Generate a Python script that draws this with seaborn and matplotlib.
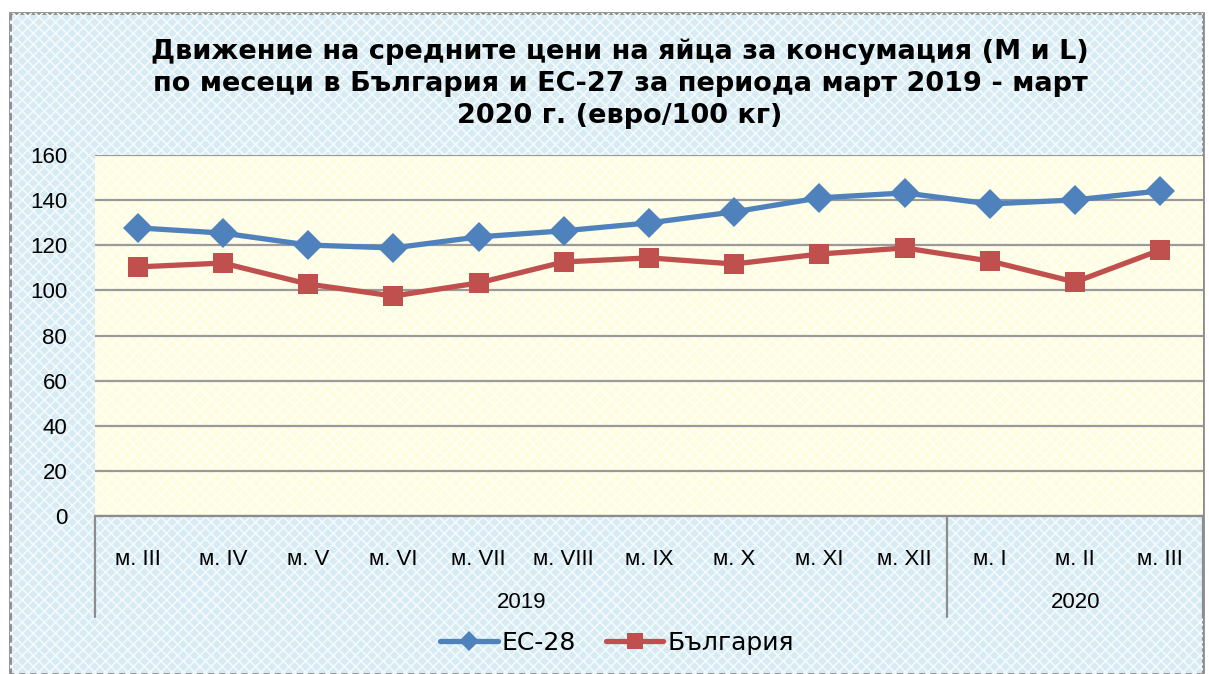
import matplotlib.pyplot as plt
import matplotlib.transforms as mtransforms
from matplotlib.patches import Rectangle
from matplotlib.lines import Line2D
import numpy as np
import pandas as pd
import seaborn as sns

months = ["м. III", "м. IV", "м. V", "м. VI", "м. VII", "м. VIII", "м. IX",
          "м. X", "м. XI", "м. XII", "м. I", "м. II", "м. III"]
years = ["2019", "2020"]
year_sizes = [10, 3]
ec28 = [127.7, 125.4, 120.1, 118.8, 123.7, 126.4, 129.9, 134.8, 141.0, 143.2, 138.3, 140.1, 144.1]
bulgaria = [110.4, 112.1, 102.8, 97.5, 103.3, 112.6, 114.4, 111.7, 116.1, 118.8, 113.0, 103.7, 117.9]
series_names = ["ЕС-28", "България"]

title = ("Движение на средните цени на яйца за консумация (M и L)\n"
         "по месеци в България и ЕС-27 за периода март 2019 - март\n"
         "2020 г. (евро/100 кг)")

sns.set_theme(style="white")
plt.rcParams['font.family'] = ['Liberation Sans', 'DejaVu Sans']
plt.rcParams['hatch.linewidth'] = 1.2

fig = plt.figure(figsize=(12.09, 6.74), dpi=100)
fig.patch.set_facecolor("white")

W, H = 1209, 674
# chart box with light blue pattern
bg = Rectangle((10 / W, 0), (1203 - 10) / W, (674 - 13) / H, transform=fig.transFigure,
               facecolor="#d6ebf3", edgecolor="#8c8c8c", linewidth=2, zorder=-3)
fig.patches.append(bg)
bg_h = Rectangle((10 / W, 0), (1203 - 10) / W, (674 - 13) / H, transform=fig.transFigure,
                 fill=False, hatch="xxx", edgecolor="#f4fafc", linewidth=0, zorder=-2)
fig.patches.append(bg_h)

ax = fig.add_axes([95 / W, 1 - 516 / H, (1203 - 95) / W, (516 - 155) / H])
ax.set_facecolor("#fffde0")
ax.add_patch(Rectangle((0, 0), 1, 1, transform=ax.transAxes, fill=False, hatch="xxx",
                       edgecolor="#fffff4", linewidth=0, zorder=0))

x = np.arange(len(months))
df = pd.DataFrame({"pos": np.concatenate([x, x]),
                   "value": ec28 + bulgaria,
                   "series": [series_names[0]] * len(x) + [series_names[1]] * len(x)})
palette = {series_names[0]: "#4f81bd", series_names[1]: "#c0504d"}

sns.lineplot(data=df[df.series == series_names[0]], x="pos", y="value", ax=ax,
             color=palette[series_names[0]], linewidth=3.8, marker="D", markersize=15,
             markeredgewidth=0, zorder=3)
sns.lineplot(data=df[df.series == series_names[1]], x="pos", y="value", ax=ax,
             color=palette[series_names[1]], linewidth=3.8, marker="s", markersize=14.5,
             markeredgewidth=0, zorder=3)

ax.set_ylim(0, 160)
ax.set_xlim(-0.5, len(months) - 0.5)
ax.set_yticks(np.arange(0, 161, 20))
ax.yaxis.grid(True, color="#9a9a9a", linewidth=1.6, zorder=1)
ax.set_axisbelow(True)
ax.set_xticks(x)
ax.set_xticklabels(months)
ax.tick_params(axis="both", length=0, labelsize=16, colors="black")
ax.tick_params(axis="x", pad=24)
ax.tick_params(axis="y", pad=20)
ax.set_xlabel("")
ax.set_ylabel("")
for s in ["left", "right", "top"]:
    ax.spines[s].set_visible(False)
ax.spines["bottom"].set_color("#8c8c8c")
ax.spines["bottom"].set_linewidth(1.6)

# year group labels and separators
trans = mtransforms.blended_transform_factory(ax.transData, ax.transAxes)
start = -0.5
bottom = -(617 - 516) / (516 - 155)
ax.plot([start, start], [0, bottom], transform=trans, color="#8c8c8c", lw=1.6, clip_on=False)
for yr, n in zip(years, year_sizes):
    end = start + n
    ax.text((start + end) / 2, -(602 - 516) / (516 - 155), yr, transform=trans,
            ha="center", va="center", fontsize=16, color="black")
    ax.plot([end, end], [0, bottom], transform=trans, color="#8c8c8c", lw=1.6, clip_on=False)
    start = end

fig.text(620 / W, 1 - 84 / H, title, ha="center", va="center", fontsize=19.5,
         fontweight="bold", family=["DejaVu Sans"], linespacing=1.3, color="black")

handles = [Line2D([], [], color=palette[series_names[0]], lw=3.8, marker="D", markersize=10,
                  markeredgewidth=0),
           Line2D([], [], color=palette[series_names[1]], lw=3.8, marker="s", markersize=11,
                  markeredgewidth=0)]
fig.legend(handles, series_names, loc="center", bbox_to_anchor=(617 / W, 1 - 643 / H),
           ncol=2, frameon=False, handlelength=2.3, columnspacing=1.2,
           handletextpad=0.15, labelcolor="black",
           prop={"family": ["DejaVu Sans"], "size": 18})

fig.savefig("out.png", dpi=100)
